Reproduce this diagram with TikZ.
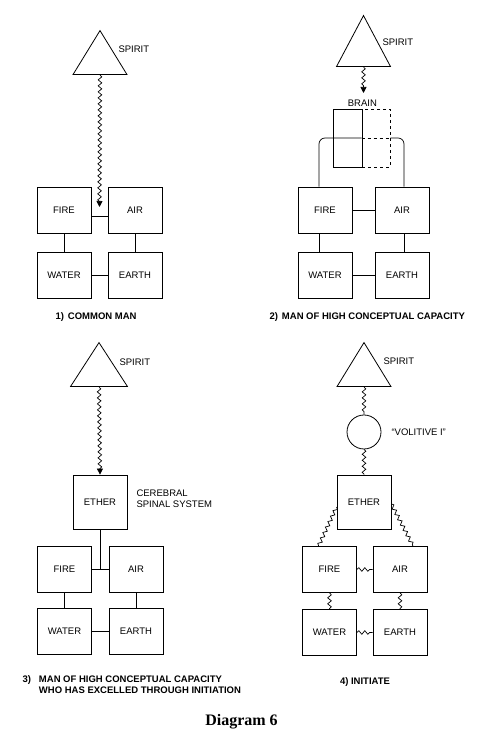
\documentclass[tikz,border=0pt]{standalone}
\usepackage{fontspec}
\setmainfont{Liberation Sans}
\newfontfamily\titlefont{Liberation Serif}
\usepackage{tikz}
\usetikzlibrary{arrows.meta, positioning, shapes.geometric, decorations.pathmorphing}

\begin{document}
\begin{tikzpicture}[x=1pt, y=1pt,
  every node/.style={font=\fontsize{9.5}{11}\selectfont},
  elem/.style={draw, line width=0.9pt, minimum width=54pt, minimum height=46pt, inner sep=0pt},
  ether/.style={elem, minimum height=54pt},
  spirit/.style={draw, line width=0.8pt, isosceles triangle, isosceles triangle stretches,
                 shape border rotate=90, minimum width=54pt, minimum height=44pt,
                 inner sep=0pt, anchor=south},
  link/.style={line width=0.7pt},
  wave/.style={decorate, decoration={snake, amplitude=1.8pt, segment length=6pt}},
  wavearr/.style={wave, decoration={post length=5pt}, -{Triangle[width=6pt,length=6pt]}},
  capt/.style={font=\fontsize{9.5}{11}\selectfont\bfseries}
]
  \useasboundingbox (0,0) rectangle (481,741);

  % 1) common man
  \node[spirit] (tri1) at (100,666) {};
  \node[anchor=west] (spirit1) at (115,692) {SPIRIT};
  \node[elem] (fire1)  at (64,531)  {FIRE};
  \node[elem] (air1)   at (135,531) {AIR};
  \node[elem] (water1) at (64,466)  {WATER};
  \node[elem] (earth1) at (135,466) {EARTH};
  \coordinate (in1) at (99.5,534);

  \draw[link] ([yshift=-6pt]fire1.east) -- ([yshift=-6pt]air1.west);
  \draw[link] (fire1) -- (water1);
  \draw[link] (air1) -- (earth1);
  \draw[link] (water1) -- (earth1);
  \draw[link, wavearr] (tri1.south) -- (in1);
  \node[capt, anchor=west] (cap1) at (52,424) {1)\hspace{4pt}COMMON MAN};

  % 2) high conceptual capacity
  \node[spirit, minimum height=51pt] (tri2) at (363.5,674) {};
  \node[anchor=west] (spirit2) at (379,699) {SPIRIT};
  \node[draw, line width=0.8pt, minimum width=29pt, minimum height=58pt, inner sep=0pt] (brainL) at (347.5,603) {};
  \node[draw, dashed, line width=0.6pt, minimum width=28pt, minimum height=58pt, inner sep=0pt] (brainR) at (376,603) {};
  \node[anchor=south, inner sep=1.5pt] (brain) at (brainL.north east) {BRAIN};
  \coordinate (in2) at (363.5,648);
  \node[elem] (fire2)  at (325,531) {FIRE};
  \node[elem] (air2)   at (402,531) {AIR};
  \node[elem] (water2) at (325,466) {WATER};
  \node[elem] (earth2) at (402,466) {EARTH};

  \draw[link, wavearr] (tri2.south) -- (in2);
  \draw[link] (fire2) -- (air2);
  \draw[link] ([xshift=-6pt]fire2.south) -- ([xshift=-6pt]water2.north);
  \draw[link] ([xshift=2pt]air2.south) -- ([xshift=2pt]earth2.north);
  \draw[link] (water2) -- (earth2);
  \draw[link, rounded corners=6pt] ([xshift=-6pt]fire2.north) |- (brainR.west);
  \draw[link, dashed] (brainR.west) -- (brainR.east);
  \draw[link, rounded corners=6pt] (brainR.east) -| ([xshift=2pt]air2.north);
  \node[capt, anchor=west] (cap2) at (266,424) {2)\hspace{4pt}MAN OF HIGH CONCEPTUAL CAPACITY};

  % 3) excelled through initiation
  \node[spirit, minimum width=57pt] (tri3) at (99,354) {};
  \node[anchor=west] (spirit3) at (116,379) {SPIRIT};
  \node[ether] (ether3) at (100,239) {ETHER};
  \node[anchor=west, align=left] (css) at (133,242) {CEREBRAL\\SPINAL SYSTEM};
  \node[elem] (fire3)  at (64.5,171.5) {FIRE};
  \node[elem] (air3)   at (136,171.5)  {AIR};
  \node[elem] (water3) at (64.5,109.5) {WATER};
  \node[elem] (earth3) at (136,109.5)  {EARTH};

  \draw[link, wavearr] (tri3.south) -- (ether3.north);
  \draw[link] (ether3) -- (ether3 |- fire3.east);
  \draw[link] (fire3) -- (air3);
  \draw[link] (fire3) -- (water3);
  \draw[link] (air3) -- (earth3);
  \draw[link] (water3) -- (earth3);
  \node[capt, anchor=west, align=left] (cap3) at (19,56)
    {3)\hspace{8pt}MAN OF HIGH CONCEPTUAL CAPACITY\\\hphantom{3)}\hspace{8pt}WHO HAS EXCELLED THROUGH INITIATION};

  % 4) initiate
  \node[spirit] (tri4) at (364,354) {};
  \node[anchor=west] (spirit4) at (380,380) {SPIRIT};
  \node[draw, circle, line width=0.8pt, minimum size=34pt, inner sep=0pt] (vol) at (364,309) {};
  \node[anchor=west] (vollbl) at (388,309) {``VOLITIVE I''};
  \node[ether] (ether4) at (364,239) {ETHER};
  \node[elem] (fire4)  at (329.5,171.5) {FIRE};
  \node[elem] (air4)   at (400,171.5)   {AIR};
  \node[elem] (water4) at (329.5,108.5) {WATER};
  \node[elem] (earth4) at (400,108.5)   {EARTH};

  \draw[link, wave] (tri4.south) -- (vol.north);
  \draw[link, wave] (vol.south) -- (ether4.north);
  \draw[link, wave] ([yshift=-5pt]ether4.west) -- ([xshift=-11pt]fire4.north);
  \draw[link, wave] ([yshift=-2pt]ether4.east) -- ([xshift=13pt]air4.north);
  \draw[link, wave] (fire4) -- (air4);
  \draw[link, wave] (water4) -- (earth4);
  \draw[link, wave] (fire4) -- (water4);
  \draw[link, wave] (air4) -- (earth4);
  \node[capt] (cap4) at (365,59) {4) INITIATE};

  \node[font=\titlefont\fontsize{16}{19}\selectfont\bfseries] (title) at (241.5,19) {Diagram 6};
\end{tikzpicture}
\end{document}
